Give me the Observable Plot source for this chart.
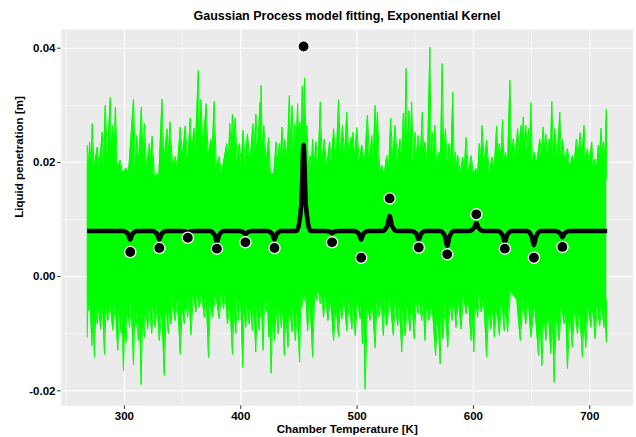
<!DOCTYPE html>
<html>
<head>
<meta charset="utf-8">
<script src="https://cdn.jsdelivr.net/npm/d3@7"></script>
<script src="https://cdn.jsdelivr.net/npm/@observablehq/plot@0.6"></script>
<style>
  html, body { margin: 0; padding: 0; background: #ffffff; }
  body { width: 636px; height: 437px; overflow: hidden; font-family: "Liberation Sans", Arial, sans-serif; }
  #title { box-sizing: border-box; height: 24px; padding-top: 9px; padding-left: 61px; padding-right: 3px;
           width: 636px; text-align: center; font-size: 12.5px; line-height: 14px; font-weight: bold; color: #000; }
</style>
</head>
<body>
<div id="title">Gaussian Process model fitting, Exponential Kernel</div>
<div id="chart"></div>
<script>
// ---- text ----
const titleText = "Gaussian Process model fitting, Exponential Kernel";
const xLabel = "Chamber Temperature [K]";
const yLabel = "Liquid penetration [m]";

// ---- ticks ----
const xMajor = [300, 400, 500, 600, 700];
const xMinor = [250, 350, 450, 550, 650];
const yMajor = [-0.02, 0.00, 0.02, 0.04];
const yMinor = [-0.01, 0.01, 0.03];

// ---- observed points ----
const obsTemp = [305, 330, 354.5, 379.5, 404, 429, 454, 478.5, 503.5, 528, 553, 577.5, 602.5, 627, 652, 676.5];
const obsPen  = [0.0043, 0.0050, 0.0068, 0.0049, 0.0060, 0.0050, 0.0403, 0.0060, 0.0033, 0.0137, 0.0051, 0.0039, 0.0109, 0.0049, 0.0033, 0.0052];

// ---- GP posterior mean ----
const meanTemp = [268,
  299,303,305,307,311, 324,328,330,332,336, 348.5,352.5,354.5,356.5,360.5,
  373.5,377.5,379.5,381.5,385.5, 398,402,404,406,410, 423,427,429,431,435,
  448,452,454,456,460, 472.5,476.5,478.5,480.5,484.5, 497.5,501.5,503.5,505.5,509.5,
  522,526,528,530,534, 547,551,553,555,559, 571.5,575.5,577.5,579.5,583.5,
  596.5,600.5,602.5,604.5,608.5, 621,625,627,629,633, 646,650,652,654,658,
  670.5,674.5,676.5,678.5,682.5, 715];
const meanPen = [0.008,
  0.008,0.0075,0.0065,0.0075,0.008, 0.008,0.0075,0.0065,0.0075,0.008, 0.008,0.0079,0.0077,0.0079,0.008,
  0.008,0.0073,0.0060,0.0073,0.008, 0.008,0.0078,0.0074,0.0078,0.008, 0.008,0.0075,0.0065,0.0075,0.008,
  0.008,0.0125,0.0231,0.0125,0.008, 0.008,0.0079,0.0076,0.0079,0.008, 0.008,0.0075,0.0065,0.0075,0.008,
  0.008,0.0089,0.0106,0.0089,0.008, 0.008,0.0075,0.0065,0.0075,0.008, 0.008,0.0071,0.0054,0.0071,0.008,
  0.008,0.0085,0.0094,0.0085,0.008, 0.008,0.0073,0.0060,0.0073,0.008, 0.008,0.0071,0.0055,0.0071,0.008,
  0.008,0.0076,0.0069,0.0076,0.008, 0.008];

// ---- posterior sample paths: level of the dense core and upper / lower spike envelopes ----
const coreLevel = 0.008;
const topEdge = [
 [268,0.023],[269.5,0.019],[270,0.0236],[271.5,0.020],[272.3,0.0268],[274,0.019],[276.6,0.0227],[278.5,0.019],
 [280.9,0.0253],[282,0.020],[283.5,0.030],[285.5,0.021],[287.8,0.0314],[289.2,0.021],[290,0.0265],[291.2,0.021],
 [292.3,0.0297],[294,0.019],[296.3,0.0204],[298.5,0.018],[301.5,0.019],[303.5,0.018],[307.8,0.031],[309.5,0.019],
 [310.6,0.0247],[312.5,0.020],[314.6,0.0297],[316,0.021],[317.2,0.0268],[319,0.019],[321.5,0.0233],[322.5,0.020],
 [323.8,0.0246],[326,0.017],[328,0.018],[329.5,0.017],[332.3,0.0311],[334,0.020],[336.6,0.0259],[337.8,0.021],
 [339.2,0.0271],[341.5,0.019],[343.8,0.021],[345.5,0.019],[348,0.0262],[350,0.021],[352.3,0.0264],[354.5,0.020],
 [356.6,0.0278],[358,0.022],[359.8,0.026],[361,0.022],[363.5,0.0361],[364.8,0.023],[365.8,0.031],[367.5,0.022],
 [370.3,0.0303],[372,0.021],[374.3,0.024],[375.5,0.022],[377.2,0.0307],[379,0.019],[381.5,0.021],[383.5,0.018],
 [388,0.0233],[389.5,0.020],[390.6,0.0268],[391.8,0.022],[392.9,0.0284],[394,0.023],[395.2,0.0278],[397,0.020],
 [398.6,0.0233],[400.5,0.020],[402,0.0256],[404,0.020],[405.8,0.025],[408,0.020],[410.6,0.0268],[411.8,0.022],
 [413,0.0285],[414.5,0.022],[416.6,0.0306],[417.1,0.022],[417.5,0.0335],[418.6,0.021],[419.8,0.0265],[422,0.020],
 [424.1,0.0244],[425.5,0.018],[426.9,0.018],[428.5,0.018],[430.4,0.0236],[431.8,0.020],[433.2,0.0233],[434.3,0.021],
 [435.5,0.0262],[436.6,0.021],[437.8,0.0241],[440,0.021],[441.8,0.0317],[443,0.022],[444.1,0.030],[445.3,0.022],
 [446.4,0.0268],[447.6,0.022],[448.9,0.0303],[450,0.023],[450.9,0.0271],[452,0.024],[452.9,0.0334],[454,0.026],
 [454.9,0.0348],[456,0.024],[456.9,0.0265],[458.3,0.019],[459.8,0.0212],[460.8,0.019],[461.8,0.0241],[463.2,0.019],
 [464.6,0.0236],[466.5,0.019],[468.4,0.0306],[470,0.020],[471.8,0.0241],[474,0.019],[476.4,0.0236],[478,0.020],
 [479.8,0.0259],[482,0.020],[484.1,0.031],[485.8,0.021],[487.5,0.0265],[489.3,0.021],[491.2,0.0288],[493,0.021],
 [494.9,0.0244],[495.6,0.022],[496.4,0.0253],[498,0.021],[499.8,0.0261],[502,0.020],[504.1,0.023],[506.5,0.020],
 [508.9,0.0283],[510.8,0.020],[512.6,0.0247],[514,0.021],[515.5,0.030],[516.5,0.023],[517.5,0.0288],[519.5,0.018],
 [521.2,0.0195],[523.4,0.018],[525.5,0.0212],[527.2,0.019],[528.9,0.0278],[530.8,0.020],[532.6,0.0265],[534.8,0.020],
 [536.9,0.0241],[538.4,0.021],[539.8,0.0286],[541,0.023],[542.1,0.0365],[543.4,0.023],[544.6,0.0291],[545.8,0.022],
 [546.9,0.0306],[548.4,0.020],[549.8,0.0253],[551.2,0.021],[552.6,0.0247],[554.4,0.021],[556.1,0.0288],[557.3,0.021],
 [558.4,0.0236],[560.5,0.020],[562.6,0.0402],[563.6,0.022],[564.6,0.0253],[565.8,0.021],[566.9,0.0265],[568.6,0.019],
 [570.3,0.0218],[571.7,0.020],[573.1,0.0373],[574.6,0.021],[576,0.0259],[577.5,0.020],[578.9,0.0233],[580.6,0.020],
 [582.3,0.0323],[583.5,0.019],[584.6,0.0218],[585.6,0.019],[586.6,0.0212],[588.8,0.018],[590.9,0.0209],[592.3,0.019],
 [593.7,0.0244],[595.8,0.018],[598,0.0212],[600.2,0.018],[602.3,0.0189],[603.7,0.018],[605.1,0.0233],[606.3,0.020],
 [607.4,0.0265],[609.4,0.020],[611.4,0.0239],[613.7,0.018],[616,0.0209],[618,0.019],[620,0.0264],[621.2,0.021],
 [622.3,0.0233],[623.7,0.021],[625.1,0.0275],[626.3,0.019],[627.4,0.0218],[629.4,0.020],[631.4,0.0344],[632.8,0.021],
 [634.3,0.0241],[636.2,0.021],[638,0.0259],[639.5,0.022],[640.9,0.0265],[641.9,0.023],[642.9,0.028],[644,0.023],
 [645.1,0.0265],[646.3,0.022],[647.4,0.0259],[648.4,0.022],[649.4,0.0305],[650.8,0.019],[652.3,0.0218],[654.7,0.020],
 [657.1,0.0241],[658.5,0.021],[660,0.0262],[661.2,0.022],[662.3,0.025],[663.7,0.021],[665.1,0.0241],[666.2,0.021],
 [667.4,0.0307],[668.7,0.022],[670,0.0259],[672.2,0.021],[674.3,0.0288],[675.5,0.021],[676.6,0.0241],[678.8,0.020],
 [680.9,0.0224],[683,0.019],[685.1,0.0212],[686.8,0.020],[688.6,0.0241],[690.2,0.021],[691.7,0.0252],[693.4,0.021],
 [695.1,0.0265],[696.5,0.020],[698,0.0224],[699.8,0.020],[701.7,0.0236],[703.2,0.019],[704.6,0.0206],[706,0.019],
 [707.4,0.023],[708.5,0.021],[709.7,0.026],[710.7,0.021],[711.7,0.0236],[713,0.021],[714.3,0.0293],[714.6,0.017]
];
const bottomEdge = [
 [268,-0.0106],[268.6,-0.004],[269.2,-0.0060],[270.6,-0.004],[272,-0.0121],[273.1,-0.007],[274.3,-0.0142],[275.5,-0.005],
 [276.6,-0.0083],[278,-0.005],[279.5,-0.0092],[281.2,-0.005],[282.9,-0.0136],[284.3,-0.005],[285.8,-0.0077],[288,-0.005],
 [290,-0.0094],[292.2,-0.005],[294.3,-0.0129],[295.8,-0.006],[297.2,-0.0100],[298.2,-0.007],[299.2,-0.0165],[300.4,-0.007],
 [301.5,-0.0115],[303,-0.005],[304.3,-0.0089],[306,-0.005],[307.8,-0.0154],[309,-0.006],[310,-0.0088],[311,-0.006],
 [312,-0.0112],[313.2,-0.007],[314.3,-0.0189],[315.8,-0.006],[317.2,-0.0106],[318.6,-0.005],[320,-0.0092],[321.8,-0.005],
 [323.5,-0.0100],[325,-0.005],[326.3,-0.0089],[328.2,-0.005],[330,-0.0112],[332.2,-0.006],[334.3,-0.0173],[336,-0.005],
 [337.8,-0.0100],[339,-0.005],[340,-0.0083],[341.8,-0.004],[343.5,-0.0077],[345.8,-0.004],[348,-0.0136],[349.8,-0.005],
 [351.5,-0.0083],[353,-0.004],[354.3,-0.0071],[355.8,-0.004],[357.2,-0.0102],[359.4,-0.003],[361.5,-0.0062],[363,-0.003],
 [364.3,-0.0054],[366.5,-0.003],[368.6,-0.0071],[370.5,-0.004],[372.3,-0.0142],[374,-0.004],[375.8,-0.0071],[378.6,-0.003],
 [381.5,-0.0074],[383.4,-0.003],[385.2,-0.0056],[387,-0.003],[388.6,-0.0083],[390.8,-0.005],[392.9,-0.0136],[394.4,-0.005],
 [395.8,-0.0100],[397,-0.004],[398,-0.0077],[400,-0.004],[401.8,-0.0159],[403,-0.005],[404.3,-0.0089],[405.8,-0.005],
 [407.2,-0.0083],[408.6,-0.005],[410,-0.0094],[411.5,-0.005],[412.9,-0.0132],[414.4,-0.005],[415.8,-0.0094],[416.4,-0.005],
 [416.9,-0.0071],[418,-0.005],[419.2,-0.0129],[420.5,-0.004],[421.8,-0.0062],[423,-0.004],[424.1,-0.0106],[425.1,-0.006],
 [426.1,-0.0169],[427.6,-0.006],[429.2,-0.0112],[430.6,-0.005],[432.1,-0.0100],[433.5,-0.005],[434.9,-0.0089],[436.2,-0.005],
 [437.5,-0.0138],[439,-0.006],[440.6,-0.0124],[442.3,-0.005],[444.1,-0.0097],[445.5,-0.005],[446.9,-0.0112],[448.8,-0.006],
 [450.6,-0.0150],[451.6,-0.004],[452.6,-0.0054],[453.6,-0.003],[454.6,-0.0042],[456,-0.003],[457.5,-0.0095],[459.6,-0.004],
 [461.8,-0.0141],[463.6,-0.003],[465.5,-0.0042],[467,-0.002],[468.4,-0.0048],[469.8,-0.003],[471.2,-0.0071],[473,-0.003],
 [474.9,-0.0077],[477.4,-0.004],[479.8,-0.0112],[482,-0.005],[484.1,-0.0106],[485.5,-0.005],[486.9,-0.0074],[489,-0.004],
 [491.2,-0.0095],[493.4,-0.004],[495.5,-0.0092],[497,-0.005],[498.4,-0.0103],[500.5,-0.004],[502.6,-0.0074],[503.6,-0.005],
 [504.6,-0.0118],[505.8,-0.006],[506.9,-0.0197],[509,-0.005],[511.2,-0.0077],[513.4,-0.005],[515.5,-0.0125],[517.2,-0.004],
 [518.9,-0.0071],[520.8,-0.004],[522.6,-0.0103],[524,-0.004],[525.5,-0.0086],[528.4,-0.004],[531.2,-0.0103],[533,-0.004],
 [534.9,-0.0086],[536.6,-0.005],[538.4,-0.0132],[539.8,-0.006],[541.2,-0.0103],[543.4,-0.005],[545.5,-0.0095],[547.4,-0.005],
 [549.2,-0.0109],[551,-0.004],[552.6,-0.0065],[554,-0.004],[555.5,-0.0077],[557,-0.005],[558.4,-0.0112],[560,-0.004],
 [561.8,-0.0077],[564.6,-0.005],[567.5,-0.0138],[569.5,-0.006],[571.4,-0.0153],[572.6,-0.006],[573.7,-0.0109],[575.8,-0.005],
 [578,-0.0124],[580,-0.004],[581.7,-0.0077],[583.4,-0.004],[585.1,-0.0089],[587.2,-0.004],[589.4,-0.0092],[591.6,-0.003],
 [593.7,-0.0065],[595.8,-0.004],[598,-0.0112],[599.2,-0.006],[600.3,-0.0132],[602,-0.004],[603.7,-0.0071],[605.2,-0.003],
 [606.6,-0.0062],[609,-0.004],[611.4,-0.0141],[613.2,-0.005],[615.1,-0.0092],[616.6,-0.005],[618,-0.0106],[620.2,-0.005],
 [622.3,-0.0103],[624.4,-0.004],[626.6,-0.0095],[628,-0.005],[629.4,-0.0097],[632,-0.002],[634.3,-0.0033],[637.3,-0.004],
 [640.3,-0.0112],[642.7,-0.004],[645.1,-0.0083],[647.2,-0.004],[649.4,-0.0106],[652.7,-0.005],[656,-0.0138],[657.5,-0.007],
 [658.9,-0.0156],[660.6,-0.006],[662.3,-0.0112],[664.4,-0.006],[666.6,-0.0135],[668,-0.007],[669.4,-0.0185],[671.5,-0.006],
 [673.7,-0.0112],[675.8,-0.005],[678,-0.0083],[679.4,-0.006],[680.9,-0.0161],[683,-0.006],[685.1,-0.0124],[687.2,-0.005],
 [689.4,-0.0100],[691.6,-0.006],[693.7,-0.0141],[695.2,-0.007],[696.6,-0.0124],[698.8,-0.005],[700.9,-0.0089],[702.8,-0.005],
 [704.6,-0.0109],[706.6,-0.005],[708.6,-0.0086],[710.4,-0.005],[712.3,-0.0089],[713.3,-0.006],[714.3,-0.0115],[714.6,-0.004]
];

// ---- tables ----
const obsData = obsTemp.map((t, i) => ({t, v: obsPen[i]}));
const meanData = meanTemp.map((t, i) => ({t, v: meanPen[i]}));
const topData = topEdge.map(([t, v]) => ({t, v}));
const bottomData = bottomEdge.map(([t, v]) => ({t, v}));

const green = "#00ff00";
const fmtY = d => d.toFixed(2);

const chart = Plot.plot({
  width: 636,
  height: 413,
  marginTop: 5,
  marginBottom: 31.7,
  marginLeft: 60.7,
  marginRight: 3.3,
  style: {fontFamily: "'Liberation Sans', Arial, sans-serif", fontSize: "11.5px", fontWeight: "bold", color: "#000", background: "#fff"},
  x: {domain: [245.65, 737.35], axis: null},
  y: {domain: [-0.02262, 0.04327], axis: null},
  marks: [
    Plot.frame({fill: "#ebebeb", stroke: "none"}),
    Plot.ruleX(xMinor, {stroke: "#ffffff", strokeWidth: 0.55}),
    Plot.ruleY(yMinor, {stroke: "#ffffff", strokeWidth: 0.55}),
    Plot.ruleX(xMajor, {stroke: "#ffffff", strokeWidth: 1.1}),
    Plot.ruleY(yMajor, {stroke: "#ffffff", strokeWidth: 1.1}),
    Plot.areaY(topData, {x: "t", y1: () => coreLevel, y2: "v", fill: green}),
    Plot.areaY(bottomData, {x: "t", y1: () => coreLevel, y2: "v", fill: green}),
    Plot.line(topData, {x: "t", y: "v", stroke: green, strokeWidth: 1}),
    Plot.line(bottomData, {x: "t", y: "v", stroke: green, strokeWidth: 1}),
    Plot.line(meanData, {x: "t", y: "v", stroke: "#000", strokeWidth: 4.5, curve: "monotone-x", strokeLinejoin: "round", strokeLinecap: "butt"}),
    Plot.dot(obsData, {x: "t", y: "v", r: 5.6, fill: "#000", stroke: "#fff", strokeWidth: 1.3}),
    Plot.axisX(xMajor, {tickSize: 3.7, tickPadding: 2.3, stroke: "#333", fill: "#000", label: null, tickFormat: d => String(d)}),
    Plot.axisY(yMajor, {tickSize: 3.7, tickPadding: 2, stroke: "#333", fill: "#000", label: null, tickFormat: fmtY}),
    Plot.text([xLabel], {frameAnchor: "bottom", dy: 23.4, text: d => d, fill: "#000", fontSize: 11.5, fontWeight: "bold", lineAnchor: "middle"}),
    Plot.text([yLabel], {frameAnchor: "left", dx: -41.7, rotate: -90, text: d => d, fill: "#000", fontSize: 11.5, fontWeight: "bold", lineAnchor: "middle"})
  ]
});
document.getElementById("chart").appendChild(chart);
</script>
</body>
</html>
